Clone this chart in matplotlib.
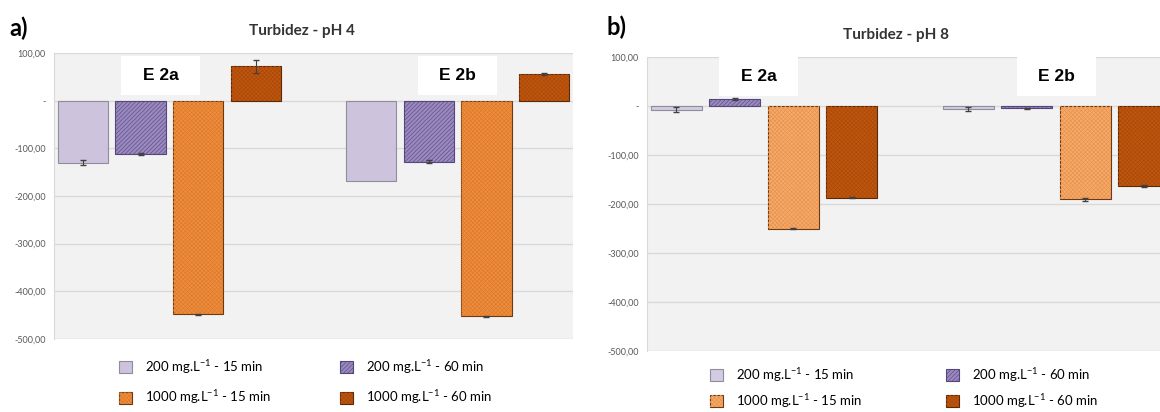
import numpy as np
import matplotlib
matplotlib.use("Agg")
import matplotlib.pyplot as plt
from matplotlib.patches import Rectangle

plt.rcParams['font.family'] = ['Lato', 'DejaVu Sans']
plt.rcParams['mathtext.fontset'] = 'custom'
plt.rcParams['mathtext.rm'] = 'Lato'
plt.rcParams['hatch.linewidth'] = 0.45

groups = ['E 2a', 'E 2b']
series = ['200 mg.L$^{-1}$ - 15 min', '200 mg.L$^{-1}$ - 60 min',
          '1000 mg.L$^{-1}$ - 15 min', '1000 mg.L$^{-1}$ - 60 min']

ph4_200_15 = [-130, -168]
ph4_200_60 = [-111, -128]
ph4_1000_15 = [-448, -452]
ph4_1000_60 = [72, 55]
ph4_err = [[5, np.nan], [2, 3], [1, 1], [14, 2]]

ph8_200_15 = [-8, -6]
ph8_200_60 = [15, -5]
ph8_1000_15 = [-250, -190]
ph8_1000_60 = [-187, -163]
ph8_err = [[5, 4], [2, 1], [1, 3], [1, 2]]

yticks = [100, 0, -100, -200, -300, -400, -500]
yticklabels = ['100,00', '-', '-100,00', '-200,00', '-300,00', '-400,00', '-500,00']

# face, hatch colour, hatch, edge
styles_a = [('#cdc3dc', None, None, '#8f8c9c'),
            ('#9a89be', '#5b4b85', '////////', '#54467a'),
            ('#f08d3b', '#d97a2e', 'xxxxxxxx', '#6b3a14'),
            ('#c0560e', '#a8490a', 'xxxxxxxx', '#5a2a08')]
styles_b = [('#d3cbe2', None, None, '#8f8c9c'),
            ('#9a89be', '#5b4b85', '////////', '#54467a'),
            ('#f7aa68', '#e5934f', 'xxxxxxxx', '#6b3a14'),
            ('#c0560e', '#a8490a', 'xxxxxxxx', '#5a2a08')]


def panel(ax, data, errs, styles):
    ax.set_facecolor('#f2f2f2')
    ax.set_xlim(-0.5, 8.5)
    ax.set_ylim(-500, 100)
    for y in yticks:
        ax.axhline(y, color='#d9d9d9', lw=1, zorder=0)
    handles = []
    for s, (vals, err) in enumerate(zip(data, errs)):
        pos = np.arange(len(groups)) * 5 + s
        face, hcol, hatch, edge = styles[s]
        b1 = ax.bar(pos, vals, 0.87, color=face, edgecolor=edge, lw=0.8, zorder=2)
        h = b1
        if hatch:
            b2 = ax.bar(pos, vals, 0.87, color='none', edgecolor=hcol, lw=0,
                        hatch=hatch, zorder=3)
            h = (b1, b2)
        ax.errorbar(pos, vals, yerr=err, fmt='none', ecolor='#404040',
                    elinewidth=0.8, capsize=2, zorder=4)
        handles.append(h)
    ax.set_yticks(yticks)
    ax.set_yticklabels(yticklabels, fontsize=6.5, color='#595959')
    ax.tick_params(axis='y', length=0, pad=6)
    ax.set_xticks([])
    for sp in ax.spines.values():
        sp.set_visible(False)
    ax.spines['left'].set_visible(True)
    ax.spines['left'].set_color('#d9d9d9')
    return handles


def label_box(ax, x0, x1, y0, y1, txt):
    ax.add_patch(Rectangle((x0, y0), x1 - x0, y1 - y0, transform=ax.transAxes,
                           facecolor='white', edgecolor='none', zorder=5,
                           clip_on=False))
    ax.text((x0 + x1) / 2, (y0 + y1) / 2, txt, transform=ax.transAxes,
            ha='center', va='center', fontsize=12.5, fontweight='bold',
            family='Liberation Sans', zorder=6)


fig = plt.figure(figsize=(11.6, 4.12), dpi=100)
ax1 = fig.add_axes([54 / 1160, 1 - 339 / 412, 519 / 1160, 286 / 412])
ax2 = fig.add_axes([647 / 1160, 1 - 351 / 412, 526 / 1160, 294 / 412])

h1 = panel(ax1, [ph4_200_15, ph4_200_60, ph4_1000_15, ph4_1000_60], ph4_err, styles_a)
h2 = panel(ax2, [ph8_200_15, ph8_200_60, ph8_1000_15, ph8_1000_60], ph8_err, styles_b)

label_box(ax1, 0.129, 0.281, 0.853, 0.990, groups[0])
label_box(ax1, 0.701, 0.854, 0.853, 0.990, groups[1])
label_box(ax2, 0.137, 0.287, 0.867, 1.0, groups[0])
label_box(ax2, 0.703, 0.854, 0.867, 1.0, groups[1])

fig.text(302 / 1160, 1 - 31 / 412, 'Turbidez - pH 4', ha='center', va='center',
         fontsize=11, fontweight='bold', color='#333333')
fig.text(896 / 1160, 1 - 35 / 412, 'Turbidez - pH 8', ha='center', va='center',
         fontsize=11, fontweight='bold', color='#333333')
fig.text(9 / 1160, 1 - 28 / 412, 'a)', ha='left', va='center', fontsize=17,
         fontweight='bold')
fig.text(606 / 1160, 1 - 27 / 412, 'b)', ha='left', va='center', fontsize=17,
         fontweight='bold')

# legend filled column-wise: reorder so rows read 200-15 | 200-60, 1000-15 | 1000-60
order = [0, 2, 1, 3]
leg_kw = dict(ncol=2, frameon=False, fontsize=9.5, handlelength=1.0,
              handleheight=1.0, handletextpad=1.0,
              borderpad=0, borderaxespad=0, loc='upper left')
fig.legend([h1[i] for i in order], [series[i] for i in order],
           bbox_to_anchor=(119 / 1160, 1 - 358 / 412), columnspacing=5.2,
           labelspacing=0.95, **leg_kw)
fig.legend([h2[i] for i in order], [series[i] for i in order],
           bbox_to_anchor=(710 / 1160, 1 - 366 / 412), columnspacing=6.3,
           labelspacing=0.6, **leg_kw)

fig.savefig('out.png', dpi=100)
